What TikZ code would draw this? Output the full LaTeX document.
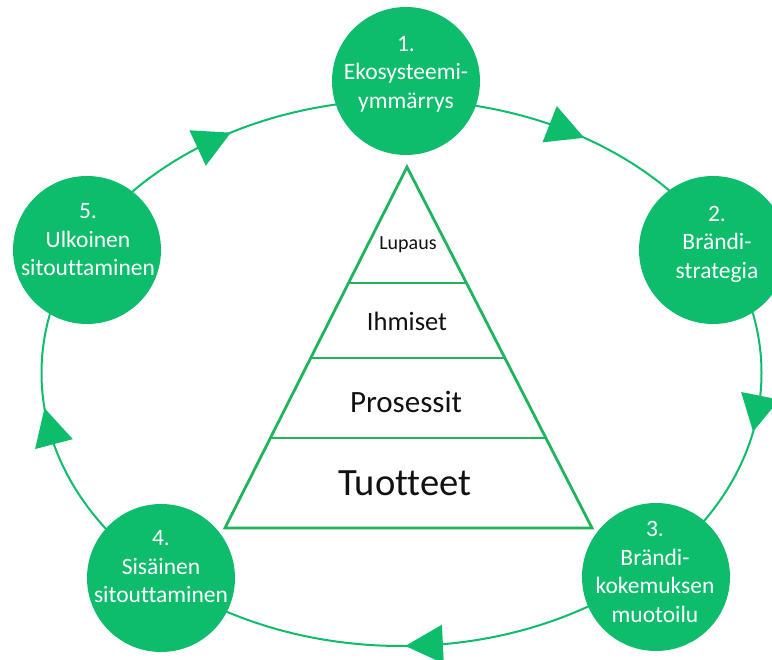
\documentclass[tikz,border=0pt]{standalone}
\usepackage{fontspec}
\setmainfont{Carlito}[Ligatures=NoCommon]
\usetikzlibrary{calc}
\definecolor{cgreen}{HTML}{0DBD6B}
\definecolor{pgreen}{HTML}{20B45E}
\definecolor{tiertxt}{HTML}{111111}
\begin{document}
\begin{tikzpicture}[x=1pt,y=-1pt,
  stage/.style={circle,fill=cgreen,draw=none,minimum size=148pt,inner sep=0pt},
  stagetext/.style={text=white,align=center,inner sep=0pt,font=\fontsize{23.5}{28.5}\selectfont},
  ring/.style={draw=cgreen,line width=2pt},
  tierline/.style={draw=pgreen,line width=2.8pt},
  tiertext/.style={text=tiertxt,inner sep=0pt}
]
\useasboundingbox (0,0) rectangle (772,660);
\coordinate (E) at (401.5,373);
% cycle ring
\draw[ring] (E) ellipse [x radius=360, y radius=273];
% arrowheads (clockwise)
\foreach \tip/\base [count=\i] in {241.7/235.5, 300.5/294.3, 12.4/4.8, 89.4/83.4, 172.6/164.9} {
  \coordinate (tip\i) at ($(E)+(\tip:360 and 273)$);
  \coordinate (base\i) at ($(E)+(\base:360 and 273)$);
  \fill[cgreen] (tip\i) -- ($(base\i)!19.5pt!90:(tip\i)$) -- ($(base\i)!19.5pt!-90:(tip\i)$) -- cycle;
}
% stages
\node[stage] (c1) at (406,81) {};
\node[stage] (c2) at (713,250) {};
\node[stage] (c3) at (656,577) {};
\node[stage] (c4) at (161,578) {};
\node[stage] (c5) at (87,250) {};
\node[stagetext] (t1) at (406,74) {1.\\Ekosysteemi-\\ymmärrys};
\node[stagetext] (t2) at (717,244) {2.\\Brändi-\\strategia};
\node[stagetext] (t3) at (655,572) {3.\\Brändi-\\kokemuksen\\muotoilu};
\node[stagetext] (t4) at (161,567) {4.\\Sisäinen\\sitouttaminen};
\node[stagetext] (t5) at (88,240) {5.\\Ulkoinen\\sitouttaminen};
% pyramid
\coordinate (apex) at (407,167);
\coordinate (bl) at (225,528);
\coordinate (br) at (592,528);
\draw[tierline,line join=miter] (apex) -- (bl) -- (br) -- cycle;
\foreach \f in {0.3213,0.529,0.7507}
  \draw[tierline] ($(apex)!\f!(bl)$) -- ($(apex)!\f!(br)$);
\node[tiertext,font=\fontsize{20}{24}\selectfont] (lupaus) at (408,245) {Lupaus};
\node[tiertext,font=\fontsize{26.5}{32}\selectfont] (ihmiset) at (407,321) {Ihmiset};
\node[tiertext,font=\fontsize{31}{37}\selectfont] (prosessit) at (406,402) {Prosessit};
\node[tiertext,font=\fontsize{38.6}{46}\selectfont] (tuotteet) at (405,483) {Tuotteet};
\end{tikzpicture}
\end{document}
